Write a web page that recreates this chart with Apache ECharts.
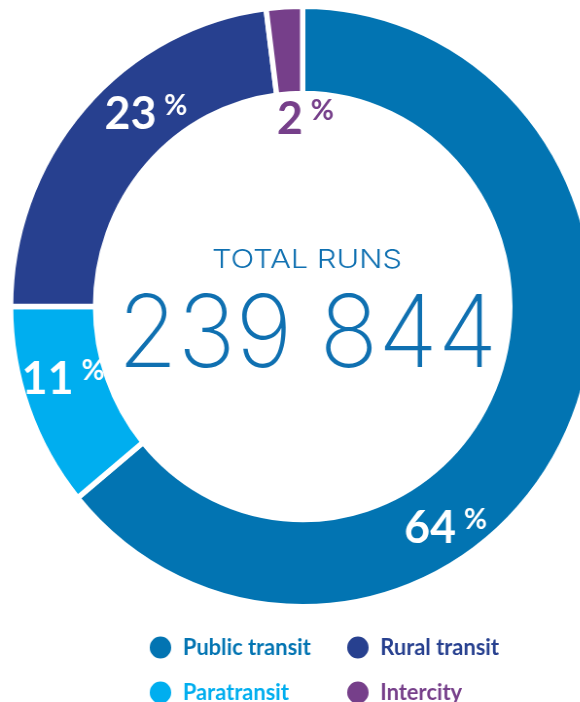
<!DOCTYPE html>
<html>
<head>
<meta charset="utf-8">
<script src="https://cdn.jsdelivr.net/npm/echarts@6/dist/echarts.min.js"></script>
<style>
  html, body { margin: 0; padding: 0; background: #ffffff; overflow: hidden; }
  #wrap { width: 580px; height: 702px; overflow: hidden; }
  /* the artwork is drawn slightly narrower than tall; extra height gives the legend room */
  #chart { width: 597px; height: 760px; transform: scaleX(0.9725); transform-origin: 0 0; }
</style>
</head>
<body>
<div id="wrap"><div id="chart"></div></div>
<script>
// Share of runs by service type (percent)
const categories = ['Public transit', 'Paratransit', 'Rural transit', 'Intercity'];
const shares = [64, 11, 23, 2];
const totalRuns = 239844;
const centerCaption = 'TOTAL RUNS';

// legend columns
const legendLeftColumn = ['Public transit', 'Paratransit'];
const legendRightColumn = ['Rural transit', 'Intercity'];

const palette = {
  'Public transit': '#0274b2',
  'Paratransit': '#00aeef',
  'Rural transit': '#27408f',
  'Intercity': '#763f8a'
};
const labelColor = {
  'Public transit': '#ffffff',
  'Paratransit': '#ffffff',
  'Rural transit': '#ffffff',
  'Intercity': '#763f8a'
};
// label nudges away from the slice mid-angle
const labelShift = {
  'Public transit': [-88, 111],
  'Paratransit': [-2, -15.5],
  'Rural transit': [33.6, -20.7],
  'Intercity': [19.2, 72.2]
};

const cx = 311.2, cy = 306.5;

function fmtThousands(n) {
  return String(n).replace(/\B(?=(\d{3})+(?!\d))/g, ' ');
}

const chart = echarts.init(document.getElementById('chart'), null, { renderer: 'canvas' });

function legendFor(names, left) {
  return {
    orient: 'vertical',
    left: left,
    top: 629.5,
    itemWidth: 36,
    itemHeight: 24,
    itemGap: 19,
    icon: 'circle',
    selectedMode: false,
    data: names.map(n => ({
      name: n,
      itemStyle: { color: palette[n] },
      textStyle: { color: palette[n], fontFamily: 'Lato', fontWeight: 700, fontSize: 22.5 }
    }))
  };
}

chart.setOption({
  animation: false,
  legend: [legendFor(legendLeftColumn, 147), legendFor(legendRightColumn, 350)],
  graphic: [
    {
      type: 'text',
      x: 315.7, y: 260.5,
      scaleX: 1.22,
      style: {
        text: centerCaption,
        fill: '#0f70b1',
        fontFamily: 'Inter',
        fontWeight: 300,
        fontSize: 26,
        align: 'center',
        verticalAlign: 'middle'
      }
    },
    {
      type: 'text',
      x: 316.2, y: 336.5,
      style: {
        text: fmtThousands(totalRuns),
        fill: '#0f70b1',
        fontFamily: 'Inter',
        fontWeight: 200,
        fontSize: 100,
        align: 'center',
        verticalAlign: 'middle'
      }
    }
  ],
  series: [{
    type: 'pie',
    center: [cx, cy],
    radius: [213, 300.3],
    startAngle: 90,
    clockwise: true,
    silent: true,
    itemStyle: { borderColor: '#ffffff', borderWidth: 5.5 },
    emphasis: { disabled: true },
    labelLine: { show: false },
    label: {
      show: true,
      position: 'inside',
      formatter: p => '{n|' + p.value + '}{p|%}',
      rich: {
        n: { fontFamily: 'Lato', fontWeight: 700, fontSize: 46, lineHeight: 46 },
        p: { fontFamily: 'Lato', fontWeight: 700, fontSize: 29, lineHeight: 32, verticalAlign: 'top', padding: [0, 0, 0, 8] }
      }
    },
    labelLayout: params => {
      const s = labelShift[categories[params.dataIndex]];
      return { dx: s[0], dy: s[1] };
    },
    data: categories.map((name, i) => ({
      name: name,
      value: shares[i],
      itemStyle: { color: palette[name] },
      label: {
        rich: {
          n: { color: labelColor[name] },
          p: { color: labelColor[name] }
        }
      }
    }))
  }]
});
</script>
</body>
</html>
